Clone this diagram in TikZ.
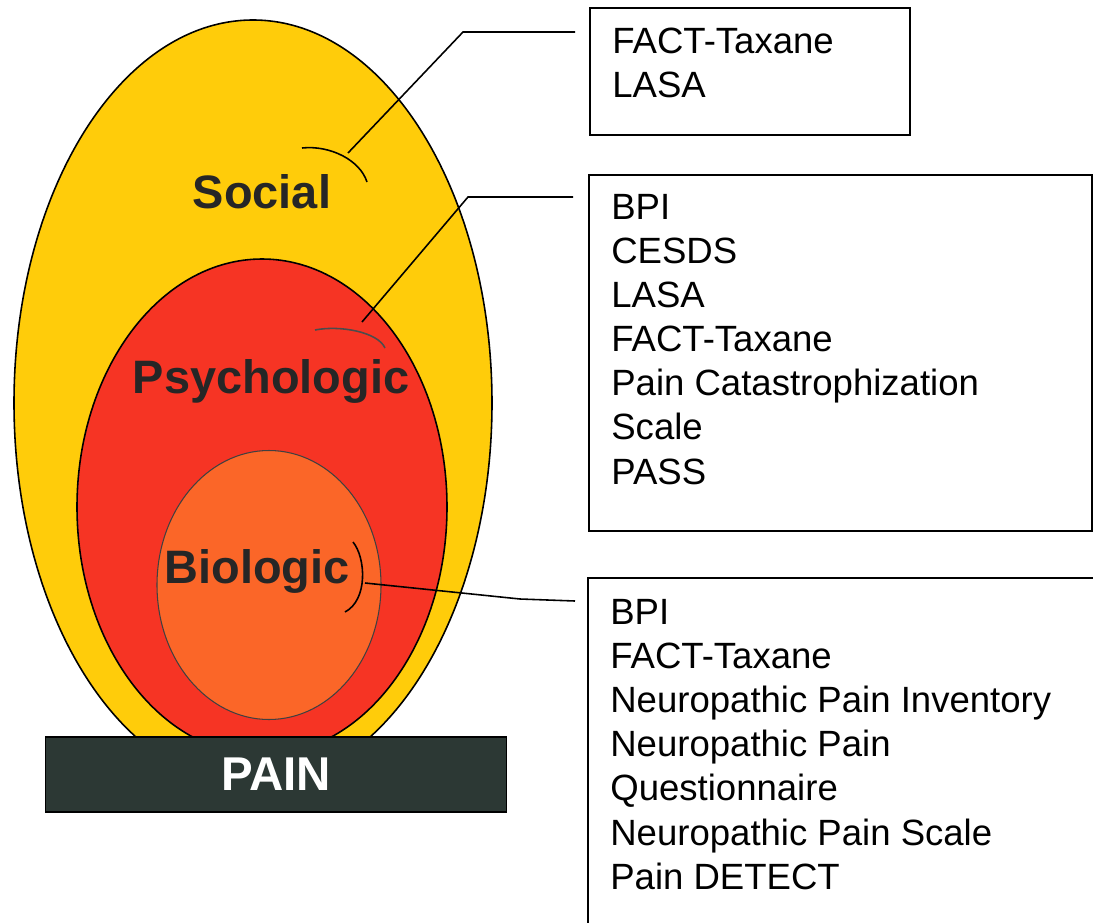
\documentclass[tikz,border=0pt]{standalone}
\usepackage{fontspec}
\setmainfont{Liberation Sans}
\definecolor{socialyellow}{RGB}{255,204,10}
\definecolor{psychred}{RGB}{246,52,36}
\definecolor{bioorange}{RGB}{251,102,40}
\definecolor{paingreen}{RGB}{44,56,52}
\begin{document}
\begin{tikzpicture}[x=0.02cm, y=-0.02cm,
  ring/.style={draw=black, line width=0.9pt},
  lvl/.style={font=\fontsize{26.7}{30}\selectfont\bfseries, text=black!85, inner sep=0pt, anchor=base},
  listbox/.style={draw, line width=1.1pt, anchor=north west, inner sep=0pt},
  listtext/.style={font=\fontsize{20.8}{25.1}\selectfont, align=left, anchor=north west, inner sep=0pt},
  callout/.style={line width=0.9pt, black}]
  \useasboundingbox (0,0) rectangle (1093,923);
  \clip (0,0) rectangle (1093,923);
  % nested spheres
  \draw[ring, fill=socialyellow] (253,403) ellipse [x radius=239, y radius=383];
  \draw[ring, fill=psychred] (262,507) ellipse [x radius=185, y radius=248];
  \draw[draw=black!75, line width=0.6pt, fill=bioorange] (269,585) ellipse [x radius=112, y radius=134.5];
  \node[lvl] (social) at (262,208) {Social};
  \node[lvl] (psycho) at (271,393) {Psychologic};
  \node[lvl] (bio) at (257,583) {Biologic};
  % base bar
  \node[draw=black, line width=0.6pt, fill=paingreen, minimum width=9.24cm, minimum height=1.5cm,
    inner sep=0pt, font=\fontsize{27}{30}\selectfont\bfseries, text=white] (pain) at (276,774.5) {PAIN};
  % measure boxes
  \node[listbox, minimum width=6.4cm, minimum height=2.54cm] (box1) at (589,7) {};
  \node[listbox, minimum width=10.06cm, minimum height=7.12cm] (box2) at (588,174) {};
  \node[listbox, minimum width=10.4cm, minimum height=7.3cm] (box3) at (587,577) {};
  \node[listtext] (box1txt) at (612,28) {FACT-Taxane\\LASA};
  \node[listtext] (box2txt) at (611,194) {BPI\\CESDS\\LASA\\FACT-Taxane\\Pain Catastrophization\\Scale\\PASS};
  \node[listtext] (box3txt) at (610,599) {BPI\\FACT-Taxane\\Neuropathic Pain Inventory\\Neuropathic Pain\\Questionnaire\\Neuropathic Pain Scale\\Pain DETECT};
  % callouts
  \coordinate (socout) at (575,32);  \coordinate (sockink) at (463,32);  \coordinate (socend) at (348,153);
  \coordinate (psyout) at (573,197); \coordinate (psykink) at (468,197); \coordinate (psyend) at (362,322);
  \coordinate (bioout) at (575,601); \coordinate (biokink) at (520,599); \coordinate (bioend) at (365,583);
  \draw[callout] (socout) -- (sockink) -- (socend);
  \draw[callout] (psyout) -- (psykink) -- (psyend);
  \draw[callout] (bioout) -- (biokink) -- (bioend);
  \draw[callout] (302,148) .. controls (330,145) and (360,160) .. (367,182);
  \draw[callout, black!70] (315,330) .. controls (340,325) and (378,332) .. (385,348);
  \draw[callout] (353,542) .. controls (366,558) and (368,600) .. (345,612);
\end{tikzpicture}
\end{document}
